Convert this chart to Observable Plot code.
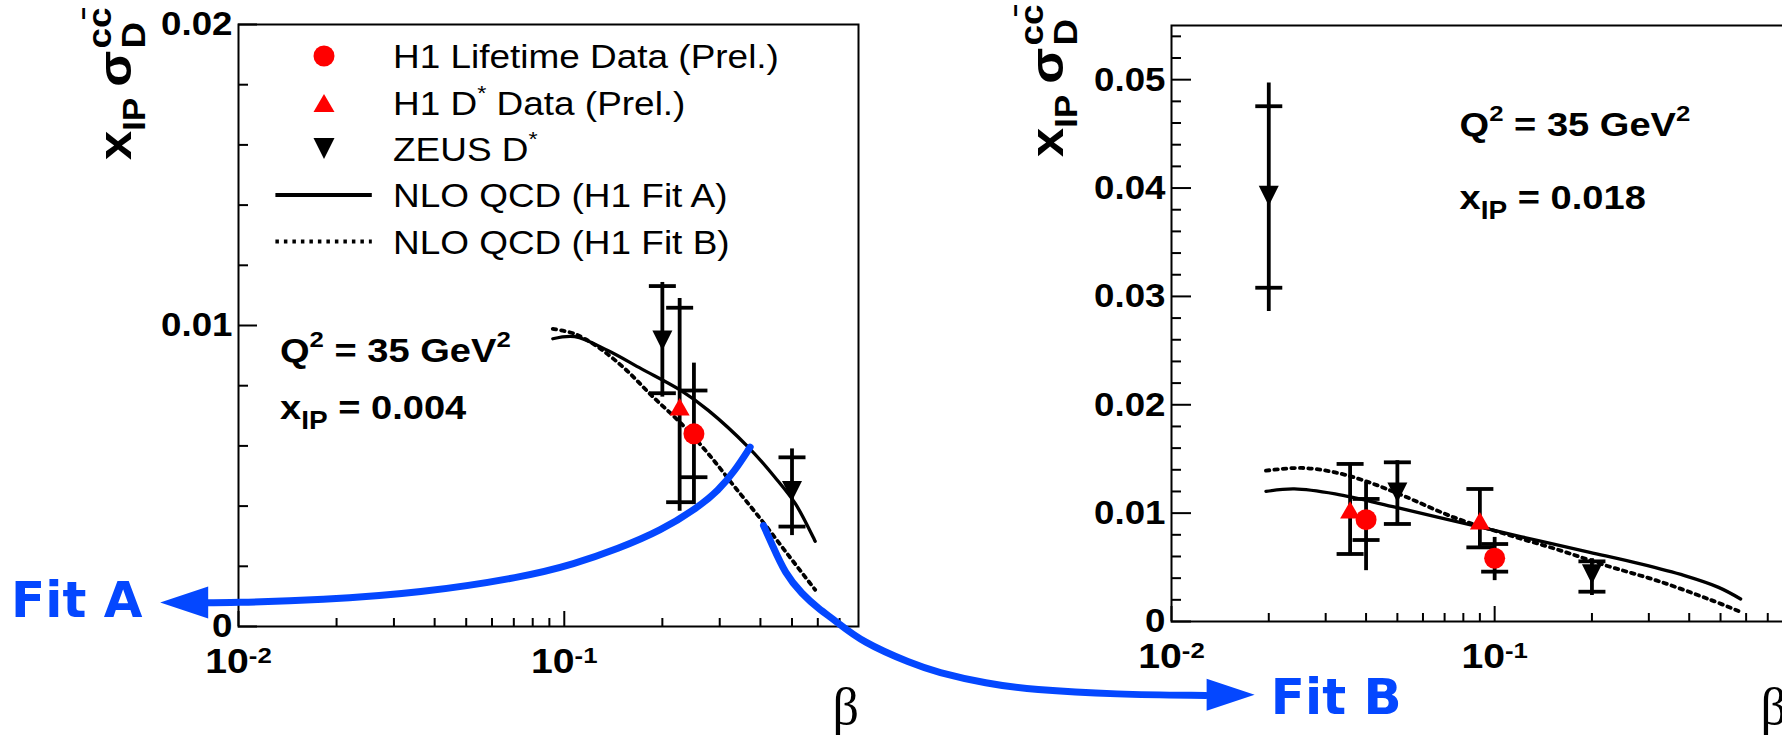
<!DOCTYPE html>
<html><head><meta charset="utf-8">
<script src="https://cdn.jsdelivr.net/npm/d3@7"></script>
<script src="https://cdn.jsdelivr.net/npm/@observablehq/plot@0.6"></script>
<style>
html,body{margin:0;padding:0;background:#fff;}
#wrap{position:relative;width:1782px;height:736px;overflow:hidden;background:#fff;}
#wrap svg{position:absolute;top:0;}
</style></head><body><div id="wrap"></div>
<script>
// ---------------- data ----------------
const betaDomain = [0.01, 0.8];
const yDomainLeft = [0, 0.02];
const yDomainRight = [0, 0.055];

const yMajorLeft = [0, 0.01, 0.02];
const yMinorLeft = [0.002, 0.004, 0.006, 0.008, 0.012, 0.014, 0.016, 0.018];
const yMajorRight = [0, 0.01, 0.02, 0.03, 0.04, 0.05];
const yMinorRight = [0.002, 0.004, 0.006, 0.008, 0.012, 0.014, 0.016, 0.018, 0.022, 0.024, 0.026, 0.028,
  0.032, 0.034, 0.036, 0.038, 0.042, 0.044, 0.046, 0.048, 0.052, 0.054];
const xDecades = [0.01, 0.1];
const xMinor = [0.02, 0.03, 0.04, 0.05, 0.06, 0.07, 0.08, 0.09, 0.2, 0.3, 0.4, 0.5, 0.6, 0.7];

const panelLabels = ["0.004", "0.018"];   // x_IP of each panel
const q2Label = "35";                      // Q^2 in GeV^2

// Left panel (x_IP = 0.004)
const lLifeBeta = [0.25], lLifeVal = [0.0064];
const lLifeStatLo = [0.00496], lLifeStatHi = [0.00784], lLifeTotLo = [0.00405], lLifeTotHi = [0.00875];
const lDstBeta = [0.226], lDstVal = [0.0073];
const lDstStatLo = [0.00413], lDstStatHi = [0.01059], lDstTotLo = [0.00383], lDstTotHi = [0.0109];
const lZeusBeta = [0.2, 0.5], lZeusVal = [0.0095, 0.0045];
const lZeusStatLo = [0.00775, 0.00332], lZeusStatHi = [0.01131, 0.00562], lZeusTotLo = [0.00762, 0.00302], lZeusTotHi = [0.01143, 0.0059];
const lFitABeta = [0.0922, 0.1077, 0.136, 0.1726, 0.2265, 0.2767, 0.367, 0.443, 0.512, 0.589];
const lFitAVal  = [0.00956, 0.00963, 0.00917, 0.00856, 0.00786, 0.00718, 0.00596, 0.00496, 0.00408, 0.00283];
const lFitBBeta = [0.0922, 0.1077, 0.127, 0.1536, 0.1855, 0.229, 0.2767, 0.334, 0.404, 0.488, 0.589];
const lFitBVal  = [0.00989, 0.00972, 0.00928, 0.00856, 0.00767, 0.00673, 0.00574, 0.00463, 0.00352, 0.00236, 0.00122];

// Right panel (x_IP = 0.018)
const rLifeBeta = [0.04, 0.1], rLifeVal = [0.0094, 0.00584];
const rLifeStatLo = [0.00752, 0.0046], rLifeStatHi = [0.01131, 0.00715], rLifeTotLo = [0.00469, 0.00377], rLifeTotHi = [0.01284, 0.00776];
const rDstBeta = [0.0357, 0.09], rDstVal = [0.0103, 0.0093];
const rDstStatLo = [0.00623, 0.00684], rDstStatHi = [0.01454, 0.01223], rDstTotLo = [0.00607, 0.0068], rDstTotHi = [0.01454, 0.01223];
const rZeusBeta = [0.02, 0.05, 0.2], rZeusVal = [0.0393, 0.0119, 0.00437];
const rZeusStatLo = [0.0308, 0.009, 0.00275], rZeusStatHi = [0.04755, 0.01469, 0.00555], rZeusTotLo = [0.0286, 0.00885, 0.0024], rZeusTotHi = [0.0497, 0.01484, 0.0058];
const rFitABeta = [0.0196, 0.024, 0.0321, 0.0496, 0.0953, 0.1365, 0.197, 0.2825, 0.387, 0.493, 0.577];
const rFitAVal  = [0.01201, 0.01223, 0.01177, 0.01053, 0.00854, 0.00746, 0.00638, 0.00531, 0.00423, 0.00315, 0.00208];
const rFitBBeta = [0.0196, 0.0252, 0.0321, 0.0409, 0.0521, 0.0748, 0.1076, 0.1545, 0.222, 0.318, 0.458, 0.583];
const rFitBVal  = [0.01392, 0.01417, 0.01376, 0.01284, 0.01161, 0.00961, 0.00808, 0.00669, 0.00515, 0.00377, 0.00208, 0.00084];

// Blue annotation arrows (in left-panel coordinates)
const arrowABeta = [0.372, 0.3342, 0.2972, 0.2576, 0.1986, 0.146, 0.1077, 0.075, 0.036, 0.0181, 0.0094, 0.00769];
const arrowAVal  = [0.00596, 0.00518, 0.00452, 0.00396, 0.00319, 0.00258, 0.00208, 0.00164, 0.00111, 0.00088, 0.00079, 0.00079];
const arrowBBeta = [0.4088, 0.4334, 0.4763, 0.536, 0.6034, 0.6787, 0.82, 1.17, 1.383, 1.98, 2.72, 4.95, 9.31];
const arrowBVal  = [0.003355, 0.002748, 0.001751, 0.001086, 0.000588, 0.000199, -0.00052, -0.00124, -0.00151, -0.0019, -0.0021, -0.00226, -0.00229];
const arrowTipBeta = [0.00575, 13.15];
const arrowTipVal  = [0.0008, -0.00227];
const fitLabels = ["Fit A", "Fit B"];
const fitLabelBeta = [0.00507, 14.75];
const fitLabelVal  = [0.00085, -0.00237];

const legendLabels = ["H1 Lifetime Data (Prel.)", "H1 D* Data (Prel.)", "ZEUS D*", "NLO QCD (H1 Fit A)", "NLO QCD (H1 Fit B)"];

// ---------------- helpers ----------------
const SANS = "'Liberation Sans', Arial, Helvetica, sans-serif";
const BLUE = "#0447ff";
const SX = 1.12;

const hline = {draw(ctx, size) { const r = Math.sqrt(size / Math.PI); ctx.moveTo(-r, 0); ctx.lineTo(r, 0); }};
const triUp = {draw(ctx, size) { const r = Math.sqrt(size / Math.PI), h = 0.866 * r; ctx.moveTo(0, -h); ctx.lineTo(r, h); ctx.lineTo(-r, h); ctx.closePath(); }};
const triDown = {draw(ctx, size) { const r = Math.sqrt(size / Math.PI); ctx.moveTo(0, r); ctx.lineTo(r, -r); ctx.lineTo(-r, -r); ctx.closePath(); }};
const arrowLeft = {draw(ctx, size) { const r = Math.sqrt(size / Math.PI); ctx.moveTo(0, 0); ctx.lineTo(2.4 * r, -0.8 * r); ctx.lineTo(2.4 * r, 0.8 * r); ctx.closePath(); }};
const arrowRight = {draw(ctx, size) { const r = Math.sqrt(size / Math.PI); ctx.moveTo(0, 0); ctx.lineTo(-2.4 * r, -0.8 * r); ctx.lineTo(-2.4 * r, 0.8 * r); ctx.closePath(); }};

const table = (beta, val, sLo, sHi, tLo, tHi) => beta.map((b, i) => ({b, v: val[i], sLo: sLo[i], sHi: sHi[i], tLo: tLo[i], tHi: tHi[i]}));
const series = (beta, val) => beta.map((b, i) => ({b, v: val[i]}));
const capsOf = rows => rows.flatMap(r => [{b: r.b, c: r.sLo}, {b: r.b, c: r.sHi}]);
const fmtY = d => d === 0 ? "0" : d3.format(".2f")(d);
const fmtX = d => "10^" + Math.round(Math.log10(d));

function dataMarks(life, dst, zeus, fitA, fitB) {
  const all = [...life, ...dst, ...zeus];
  return [
    Plot.line(fitA, {x: "b", y: "v", stroke: "black", strokeWidth: 3.3, curve: "catmull-rom"}),
    Plot.line(fitB, {x: "b", y: "v", stroke: "black", strokeWidth: 3.8, strokeDasharray: "3.5,5", curve: "catmull-rom"}),
    Plot.ruleX(all, {x: "b", y1: "tLo", y2: "tHi", stroke: "black", strokeWidth: 3.8}),
    Plot.dot(capsOf(all), {x: "b", y: "c", symbol: hline, r: 13.5, stroke: "black", strokeWidth: 3.8, fill: "none"}),
    Plot.dot(zeus, {x: "b", y: "v", symbol: triDown, r: 10, fill: "black", stroke: "none"}),
    Plot.dot(dst, {x: "b", y: "v", symbol: triUp, r: 10, fill: "red", stroke: "none"}),
    Plot.dot(life, {x: "b", y: "v", r: 10.5, fill: "red", stroke: "none"})
  ];
}
function axisMarks(yMajor, yMinor, yMajorLen) {
  return [
    Plot.frame({stroke: "black", strokeWidth: 2}),
    Plot.axisY(yMinor, {tickSize: 10, dx: 10, fill: "none", stroke: "black", strokeWidth: 2, label: null}),
    Plot.axisY(yMajor, {tickSize: yMajorLen, dx: yMajorLen, fill: "none", stroke: "black", strokeWidth: 2, label: null}),
    Plot.axisY(yMajor, {tickSize: 0, tickPadding: 6, tickFormat: fmtY, fontSize: 34, fontWeight: "bold", fill: "black", label: null}),
    Plot.axisX(xMinor, {tickSize: 8, dy: -8, fill: "none", stroke: "black", strokeWidth: 2, label: null}),
    Plot.axisX(xDecades, {tickSize: 15, dy: -15, fill: "none", stroke: "black", strokeWidth: 2, label: null}),
    Plot.axisX(xDecades, {tickSize: 0, tickPadding: 22, tickFormat: fmtX, fontSize: 35, fontWeight: "bold", fill: "black", label: null})
  ];
}
function richText(svg, x, y, parts, o = {}) {
  const g = d3.select(svg).append("g")
    .attr("transform", `translate(${x},${y}) rotate(${o.rotate || 0}) scale(${o.sx || 1},1)`)
    .attr("font-family", o.family || SANS)
    .attr("font-weight", o.weight || "bold")
    .attr("fill", o.fill || "black")
    .attr("text-anchor", "start")
    .style("white-space", "pre");
  let cx = 0, start = 0;
  for (const p of parts) {
    const x0 = p.stack ? start : cx + (p.gap || 0);
    const t = g.append("text").attr("x", x0).attr("y", p.dy || 0).attr("font-size", p.size).attr("text-anchor", "start").text(p.t);
    const w = t.node().getComputedTextLength();
    if (p.stack) cx = Math.max(cx, x0 + w); else { start = x0; cx = x0 + w; }
  }
  return g;
}
function fixTickLabels(svg) {
  d3.select(svg).selectAll('g[aria-label="x-axis tick label"] text').each(function () {
    const [base, exp] = this.textContent.split("^");
    const t = d3.select(this);
    t.text(base);
    t.append("tspan").attr("dy", "-0.45em").attr("font-size", 23).text(exp);
    t.attr("transform", t.attr("transform") + ` scale(${SX},1)`);
  });
  d3.select(svg).selectAll('g[aria-label="y-axis tick label"] text').each(function () {
    const t = d3.select(this);
    t.attr("transform", t.attr("transform") + ` scale(1.08,1)`);
  });
}
function titleParts() {
  return [{t: "x", size: 47}, {t: "IP", size: 31, dy: 14}, {t: "σ", size: 47, gap: 10},
          {t: "cc\u0304", size: 33, dy: -20, gap: 2}, {t: "D", size: 33, dy: 14, stack: true}];
}
const q2Parts = () => [{t: "Q", size: 34}, {t: "2", size: 23, dy: -15}, {t: " = " + q2Label + " GeV", size: 34}, {t: "2", size: 23, dy: -15}];
const xipParts = v => [{t: "x", size: 34}, {t: "IP", size: 25, dy: 10}, {t: " = " + v, size: 34}];

// ---------------- left panel ----------------
const W = 1782, H = 736;
const wrap = document.getElementById("wrap");

const lLife = table(lLifeBeta, lLifeVal, lLifeStatLo, lLifeStatHi, lLifeTotLo, lLifeTotHi);
const lDst = table(lDstBeta, lDstVal, lDstStatLo, lDstStatHi, lDstTotLo, lDstTotHi);
const lZeus = table(lZeusBeta, lZeusVal, lZeusStatLo, lZeusStatHi, lZeusTotLo, lZeusTotHi);
const fitRows = fitLabels.map((t, i) => ({t, b: fitLabelBeta[i], v: fitLabelVal[i]}));

const leftSvg = Plot.plot({
  width: W, height: H,
  marginLeft: 238, marginRight: W - 858, marginTop: 24, marginBottom: H - 626,
  x: {type: "log", domain: betaDomain},
  y: {domain: yDomainLeft},
  style: {background: "transparent", overflow: "visible", fontFamily: SANS, color: "black"},
  marks: [
    ...axisMarks(yMajorLeft, yMinorLeft, 19),
    ...dataMarks(lLife, lDst, lZeus, series(lFitABeta, lFitAVal), series(lFitBBeta, lFitBVal)),
    Plot.line(series(arrowABeta, arrowAVal), {x: "b", y: "v", stroke: BLUE, strokeWidth: 7, curve: "basis"}),
    Plot.line(series(arrowBBeta, arrowBVal), {x: "b", y: "v", stroke: BLUE, strokeWidth: 7, curve: "basis"}),
    Plot.dot([{b: arrowTipBeta[0], v: arrowTipVal[0]}], {x: "b", y: "v", symbol: arrowLeft, r: 20, fill: BLUE, stroke: "none"}),
    Plot.dot([{b: arrowTipBeta[1], v: arrowTipVal[1]}], {x: "b", y: "v", symbol: arrowRight, r: 20, fill: BLUE, stroke: "none"}),
    Plot.text(fitRows.slice(0, 1), {x: "b", y: "v", text: "t", textAnchor: "end", fontSize: 50, fontWeight: "bold", fontFamily: "'DejaVu Sans', sans-serif", fill: BLUE}),
    Plot.text(fitRows.slice(1), {x: "b", y: "v", text: "t", textAnchor: "start", fontSize: 50, fontWeight: "bold", fontFamily: "'DejaVu Sans', sans-serif", fill: BLUE})
  ]
});
leftSvg.style.left = "0px";
wrap.appendChild(leftSvg);

// ---------------- right panel ----------------
const RX = 900, RW = 900;
const rLife = table(rLifeBeta, rLifeVal, rLifeStatLo, rLifeStatHi, rLifeTotLo, rLifeTotHi);
const rDst = table(rDstBeta, rDstVal, rDstStatLo, rDstStatHi, rDstTotLo, rDstTotHi);
const rZeus = table(rZeusBeta, rZeusVal, rZeusStatLo, rZeusStatHi, rZeusTotLo, rZeusTotHi);

const rightSvg = Plot.plot({
  width: RW, height: H,
  marginLeft: 1171 - RX, marginRight: RX + RW - 1786, marginTop: 25, marginBottom: H - 621,
  x: {type: "log", domain: betaDomain},
  y: {domain: yDomainRight},
  style: {background: "transparent", overflow: "visible", fontFamily: SANS, color: "black"},
  marks: [
    ...axisMarks(yMajorRight, yMinorRight, 20),
    ...dataMarks(rLife, rDst, rZeus, series(rFitABeta, rFitAVal), series(rFitBBeta, rFitBVal))
  ]
});
rightSvg.style.left = RX + "px";
wrap.appendChild(rightSvg);

fixTickLabels(leftSvg);
fixTickLabels(rightSvg);

// ---------------- annotations ----------------
richText(leftSvg, 131, 160, titleParts(), {rotate: -90, sx: SX});
richText(rightSvg, 1063 - RX, 157, titleParts(), {rotate: -90, sx: SX});
richText(leftSvg, 280, 361.5, q2Parts(), {sx: SX});
richText(leftSvg, 280, 419, xipParts(panelLabels[0]), {sx: SX});
richText(rightSvg, 1459.6 - RX, 136, q2Parts(), {sx: SX});
richText(rightSvg, 1459.6 - RX, 209, xipParts(panelLabels[1]), {sx: SX});
d3.select(leftSvg).append("text").attr("x", 859).attr("y", 724).attr("text-anchor", "end")
  .attr("font-family", "'Liberation Serif', 'Times New Roman', serif").attr("font-size", 52).text("β");
d3.select(rightSvg).append("text").attr("x", 1787 - RX).attr("y", 724).attr("text-anchor", "end")
  .attr("font-family", "'Liberation Serif', 'Times New Roman', serif").attr("font-size", 52).text("β");

// legend (left panel)
{
  const lg = d3.select(leftSvg).append("g");
  const sx = 324, rows = [56, 103, 148.5, 195, 241.5];
  lg.append("circle").attr("cx", sx).attr("cy", rows[0]).attr("r", 10.5).attr("fill", "red");
  lg.append("path").attr("d", d3.symbol(triUp, Math.PI * 10.5 * 10.5)()).attr("transform", `translate(${sx},${rows[1]})`).attr("fill", "red");
  lg.append("path").attr("d", d3.symbol(triDown, Math.PI * 10.5 * 10.5)()).attr("transform", `translate(${sx},${rows[2]})`).attr("fill", "black");
  lg.append("line").attr("x1", 275.4).attr("x2", 371.8).attr("y1", rows[3]).attr("y2", rows[3]).attr("stroke", "black").attr("stroke-width", 4);
  lg.append("line").attr("x1", 275.4).attr("x2", 371.8).attr("y1", rows[4]).attr("y2", rows[4]).attr("stroke", "black").attr("stroke-width", 4).attr("stroke-dasharray", "3.5,5");
  const partsFor = s => {
    const k = s.indexOf("*");
    if (k < 0) return [{t: s, size: 33}];
    const out = [{t: s.slice(0, k), size: 33}, {t: "*", size: 21, dy: -15}];
    if (k < s.length - 1) out.push({t: s.slice(k + 1), size: 33});
    return out;
  };
  legendLabels.forEach((s, i) => richText(leftSvg, 393, rows[i] + 12, partsFor(s), {sx: SX, weight: "normal"}));
}
</script></body></html>
